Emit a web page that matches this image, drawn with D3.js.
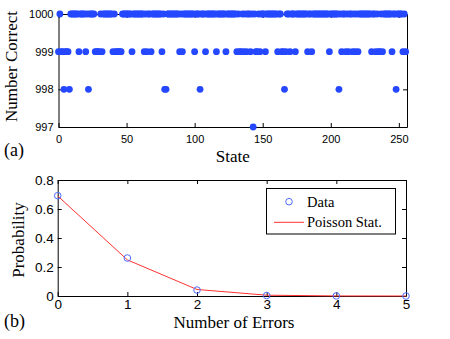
<!DOCTYPE html>
<html>
<head>
<meta charset="utf-8">
<script src="https://cdn.jsdelivr.net/npm/d3@7"></script>
<style>
  body { margin: 0; background: #fff; }
  .tick text { font-family: "Liberation Sans", Arial, sans-serif; fill: #000; }
  .axis-label { font-family: "Liberation Serif", "Times New Roman", serif; fill: #000; }
</style>
</head>
<body>
<div id="vis"></div>
<script>
// ---- data ----
// panel (a): errors per state (0 -> 1000 correct, 1 -> 999, ...), states 0..255, 16 per row
const errorsPerState = [
  1,0,1,1,2,1,1,1,2,0,0,0,0,0,0,1,
  0,0,0,0,1,0,2,0,0,0,0,1,1,1,1,0,
  1,0,0,0,0,0,0,0,1,0,1,1,1,1,1,0,
  0,0,0,0,0,0,1,0,0,0,0,0,0,0,0,1,
  0,1,0,0,1,0,0,0,0,0,0,0,1,0,2,2,
  0,0,0,0,0,0,0,0,0,1,0,1,0,0,0,0,
  0,0,0,0,1,0,0,0,2,0,0,0,1,0,0,0,
  0,0,0,0,1,0,0,0,0,0,0,1,0,0,0,0,
  0,0,0,1,0,1,1,0,1,0,1,0,0,1,0,3,
  0,1,1,0,1,0,0,0,1,0,0,0,0,0,0,0,
  0,1,0,0,1,1,2,1,0,0,1,0,0,0,1,0,
  0,0,0,0,0,0,0,1,0,0,1,0,0,0,0,0,
  0,0,0,0,0,0,0,1,0,0,0,0,0,0,2,0,
  1,0,0,1,0,1,0,0,1,0,1,0,1,0,0,0,
  0,0,0,0,0,0,1,0,0,1,0,1,1,0,1,0,
  0,0,0,0,0,1,0,0,2,0,0,0,0,1,0,1
];
const stateTicks = [0, 50, 100, 150, 200, 250];
const correctTicks = [997, 998, 999, 1000];

// panel (b)
const numErrors = [0, 1, 2, 3, 4, 5];
const probData = [0.692, 0.262, 0.041, 0.003, 0.0005, 0.0];
const probPoisson = [0.690, 0.249, 0.045, 0.0055, 0.0005, 0.0];
const probTicks = [0, 0.2, 0.4, 0.6, 0.8];
const legendLabels = ['Data', 'Poisson Stat.'];

const W = 450, H = 339;
const blue = '#2447ff';

const svg = d3.select('#vis').append('svg')
  .attr('width', W)
  .attr('height', H);

// ================= panel (a) =================
const a = {left: 58.5, right: 407, top: 14, bottom: 127};

const xA = d3.scaleLinear().domain([0, 256]).range([a.left, a.right]);
const yA = d3.scaleLinear().domain([997, 1000]).range([a.bottom, a.top]);

// box + inward ticks
svg.append('g')
  .attr('transform', `translate(0,${a.bottom})`)
  .call(d3.axisBottom(xA).tickValues(stateTicks).tickSizeInner(-4).tickSizeOuter(0).tickPadding(8))
  .call(g => g.selectAll('text').style('font-size', '11px'));
svg.append('g')
  .attr('transform', `translate(0,${a.top})`)
  .call(d3.axisTop(xA).tickValues(stateTicks).tickSizeInner(-4).tickSizeOuter(0).tickFormat(''));
svg.append('g')
  .attr('transform', `translate(${a.left},0)`)
  .call(d3.axisLeft(yA).tickValues(correctTicks).tickSizeInner(-4).tickSizeOuter(0).tickPadding(5).tickFormat(d3.format('d')))
  .call(g => g.selectAll('text').style('font-size', '11px'));
svg.append('g')
  .attr('transform', `translate(${a.right},0)`)
  .call(d3.axisRight(yA).tickValues(correctTicks).tickSizeInner(-4).tickSizeOuter(0).tickFormat(''));

svg.selectAll('.point')
  .data(errorsPerState)
  .join('circle')
  .attr('class', 'point')
  .attr('cx', (d, i) => xA(i))
  .attr('cy', d => yA(1000 - d))
  .attr('r', 3.4)
  .style('fill', blue);

svg.append('text')
  .attr('class', 'axis-label')
  .attr('transform', `translate(17,${(a.top + a.bottom) / 2 - 4}) rotate(-90)`)
  .style('text-anchor', 'middle')
  .style('font-size', '17px')
  .text('Number Correct');
svg.append('text')
  .attr('class', 'axis-label')
  .attr('x', (a.left + a.right) / 2)
  .attr('y', 162)
  .style('text-anchor', 'middle')
  .style('font-size', '17px')
  .text('State');
svg.append('text')
  .attr('class', 'axis-label')
  .attr('x', 4)
  .attr('y', 156)
  .style('font-size', '18px')
  .text('(a)');

// ================= panel (b) =================
const b = {left: 57.7, right: 406, top: 180, bottom: 296};

const xB = d3.scaleLinear().domain([0, 5]).range([b.left, b.right]);
const yB = d3.scaleLinear().domain([0, 0.8]).range([b.bottom, b.top]);

svg.append('g')
  .attr('transform', `translate(0,${b.bottom})`)
  .call(d3.axisBottom(xB).tickValues(numErrors).tickSizeInner(-4).tickSizeOuter(0).tickPadding(3).tickFormat(d3.format('d')))
  .call(g => g.selectAll('text').style('font-size', '13.5px'));
svg.append('g')
  .attr('transform', `translate(0,${b.top})`)
  .call(d3.axisTop(xB).tickValues(numErrors).tickSizeInner(-4).tickSizeOuter(0).tickFormat(''));
svg.append('g')
  .attr('transform', `translate(${b.left},0)`)
  .call(d3.axisLeft(yB).tickValues(probTicks).tickSizeInner(-4).tickSizeOuter(0).tickPadding(4).tickFormat(d => d === 0 ? '0' : d3.format('.1f')(d)))
  .call(g => g.selectAll('text').style('font-size', '13.5px'));
svg.append('g')
  .attr('transform', `translate(${b.right},0)`)
  .call(d3.axisRight(yB).tickValues(probTicks).tickSizeInner(-4).tickSizeOuter(0).tickFormat(''));

const line = d3.line()
  .x((d, i) => xB(numErrors[i]))
  .y(d => yB(d));

svg.append('path')
  .datum(probPoisson)
  .attr('d', line)
  .style('fill', 'none')
  .style('stroke', '#ff3333')
  .style('stroke-width', 1);

svg.selectAll('.datapt')
  .data(probData)
  .join('circle')
  .attr('class', 'datapt')
  .attr('cx', (d, i) => xB(numErrors[i]))
  .attr('cy', d => yB(d))
  .attr('r', 3.3)
  .style('fill', 'none')
  .style('stroke', '#4d6bff')
  .style('stroke-width', 1);

// legend
const leg = svg.append('g');
leg.append('rect')
  .attr('x', 266.5).attr('y', 188.5)
  .attr('width', 129).attr('height', 45.5)
  .style('fill', '#fff').style('stroke', '#000').style('stroke-width', 1);
leg.append('circle')
  .attr('cx', 289).attr('cy', 201.7).attr('r', 3.3)
  .style('fill', 'none').style('stroke', '#4d6bff').style('stroke-width', 1);
leg.append('line')
  .attr('x1', 274).attr('x2', 304).attr('y1', 222.3).attr('y2', 222.3)
  .style('stroke', '#ff3333').style('stroke-width', 1);
leg.selectAll('.legtext')
  .data(legendLabels)
  .join('text')
  .attr('class', 'axis-label legtext')
  .attr('x', 307)
  .attr('y', (d, i) => 206.5 + i * 20.6)
  .style('font-size', '14.5px')
  .text(d => d);

svg.append('text')
  .attr('class', 'axis-label')
  .attr('transform', `translate(24,${(b.top + b.bottom) / 2 + 2}) rotate(-90)`)
  .style('text-anchor', 'middle')
  .style('font-size', '17px')
  .text('Probability');
svg.append('text')
  .attr('class', 'axis-label')
  .attr('x', 234)
  .attr('y', 328)
  .style('text-anchor', 'middle')
  .style('font-size', '17px')
  .text('Number of Errors');
svg.append('text')
  .attr('class', 'axis-label')
  .attr('x', 4)
  .attr('y', 327)
  .style('font-size', '18px')
  .text('(b)');
</script>
</body>
</html>
